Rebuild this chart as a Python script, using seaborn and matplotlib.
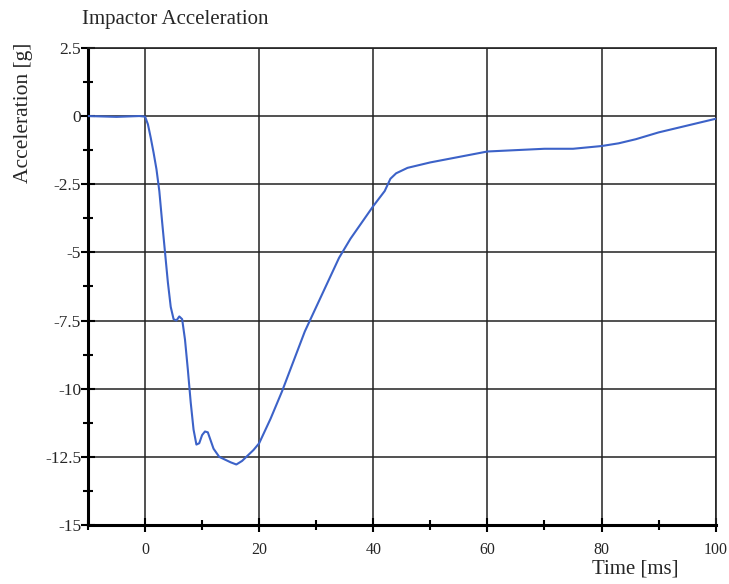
import numpy as np
import pandas as pd
import seaborn as sns
from matplotlib import pyplot as plt
from matplotlib.ticker import MultipleLocator, FixedLocator, FixedFormatter

# impactor acceleration trace
time_ms = [-10, -5, -1, 0, 0.5, 1, 1.5, 2, 2.5, 3, 3.5, 4, 4.5, 5, 5.5, 6, 6.5,
           7, 7.5, 8, 8.5, 9, 9.5, 10, 10.5, 11, 11.5, 12, 13, 14, 15, 16, 17,
           18, 19, 20, 22, 24, 26, 28, 30, 32, 34, 36, 38, 40, 42, 43, 44, 46,
           48, 50, 55, 60, 65, 70, 75, 80, 83, 86, 90, 95, 100]
accel_g = [0.0, -0.03, 0.0, -0.02, -0.3, -0.8, -1.35, -1.95, -2.75, -3.9, -5.0,
           -6.1, -7.0, -7.45, -7.5, -7.35, -7.45, -8.2, -9.3, -10.5, -11.5,
           -12.05, -12.0, -11.7, -11.57, -11.6, -11.9, -12.2, -12.5, -12.6,
           -12.7, -12.78, -12.65, -12.45, -12.25, -12.0, -11.1, -10.1, -9.0,
           -7.9, -7.0, -6.1, -5.2, -4.5, -3.9, -3.3, -2.75, -2.3, -2.1, -1.9,
           -1.8, -1.7, -1.5, -1.3, -1.25, -1.2, -1.2, -1.1, -1.0, -0.85, -0.6,
           -0.35, -0.1]

xticks = [0, 20, 40, 60, 80, 100]
xtick_labels = ['0', '20', '40', '60', '80', '100']
yticks = [2.5, 0, -2.5, -5, -7.5, -10, -12.5, -15]
ytick_labels = ['2.5', '0', '-2.5', '-5', '-7.5', '-10', '-12.5', '-15']

sns.set_theme(style="white")
plt.rcParams['font.family'] = ['Liberation Serif', 'DejaVu Serif']
plt.rcParams['axes.unicode_minus'] = False

df = pd.DataFrame({'t': time_ms, 'a': accel_g})

fig = plt.figure(figsize=(7.29, 5.84), dpi=100)
ax = fig.add_axes([0.1207, 0.101, 0.861, 0.817])
sns.lineplot(data=df, x='t', y='a', ax=ax, color='#3c62c8', linewidth=1.5, zorder=5)

ax.set_xlim(-10, 100)
ax.set_ylim(-15, 2.5)
ax.xaxis.set_major_locator(FixedLocator(xticks))
ax.xaxis.set_major_formatter(FixedFormatter(xtick_labels))
ax.xaxis.set_minor_locator(MultipleLocator(10))
ax.yaxis.set_major_locator(FixedLocator(yticks))
ax.yaxis.set_major_formatter(FixedFormatter(ytick_labels))
ax.yaxis.set_minor_locator(MultipleLocator(1.25))

ax.tick_params(which='major', direction='inout', length=10, width=1.5,
               color='black', bottom=True, left=True)
ax.tick_params(which='minor', direction='inout', length=7, width=1.5,
               color='black', bottom=True, left=True)
ax.tick_params(axis='x', labelsize=11.5, pad=7)
ax.tick_params(axis='y', labelsize=12.5, pad=0)
ax.grid(which='major', color='#222222', linewidth=1.1)

for side in ['left', 'bottom']:
    ax.spines[side].set_linewidth(2.2)
    ax.spines[side].set_color('black')
for side in ['top', 'right']:
    ax.spines[side].set_linewidth(1.2)
    ax.spines[side].set_color('#222222')

ax.set_xlabel('')
ax.set_ylabel('')
fig.text(0.112, 0.967, 'Impactor Acceleration', fontsize=15, ha='left', va='center')
fig.text(0.032, 0.806, 'Acceleration [g]', fontsize=15.5, rotation=90, ha='center', va='center')
fig.text(0.872, 0.026, 'Time [ms]', fontsize=15, ha='center', va='center')

plt.savefig('out.png')
